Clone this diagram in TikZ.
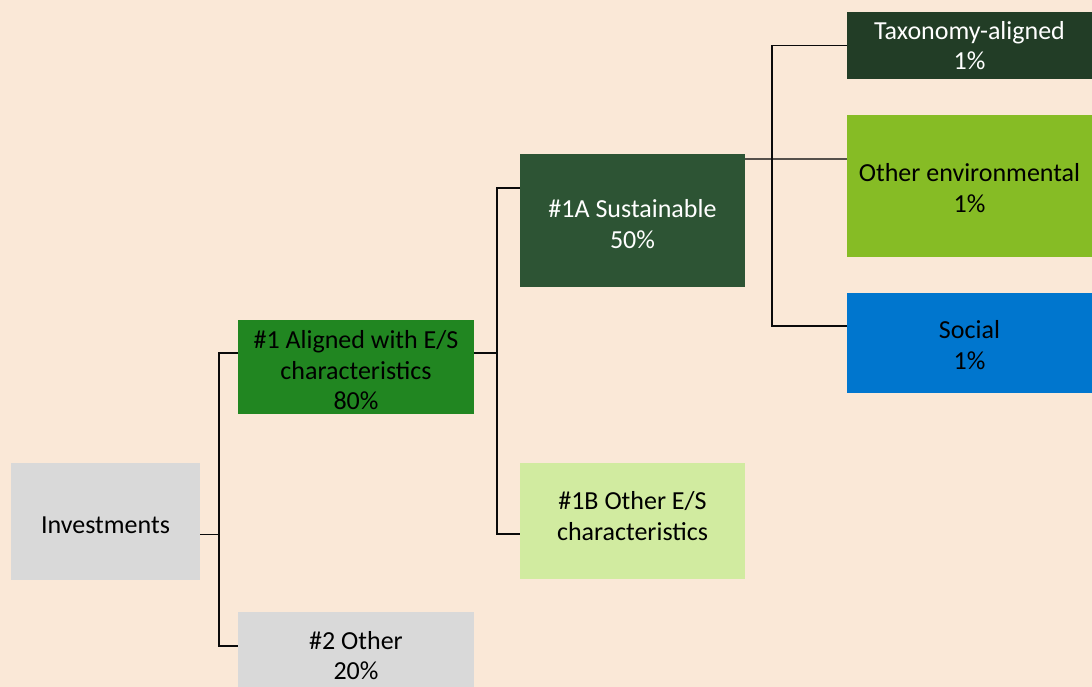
\documentclass[tikz,border=0pt]{standalone}
\usepackage{fontspec}
\setmainfont{Carlito}
\definecolor{bgc}{RGB}{250,232,215}
\definecolor{grayc}{RGB}{217,217,217}
\definecolor{alignc}{RGB}{33,134,33}
\definecolor{susc}{RGB}{45,84,52}
\definecolor{taxc}{RGB}{34,61,38}
\definecolor{envc}{RGB}{134,188,37}
\definecolor{socc}{RGB}{0,118,206}
\definecolor{otherc}{RGB}{209,235,160}
\definecolor{linec}{RGB}{10,10,10}
\definecolor{thinc}{RGB}{85,80,75}
\newcommand{\fstrut}[1][25pt]{\rule{0pt}{#1}}
\newcommand{\lstrut}{\rule[-10pt]{0pt}{10pt}}
\begin{document}
\begin{tikzpicture}[x=1pt,y=-1pt,
  box/.style={rectangle, inner sep=0pt, align=center, draw=none,
    font=\fontsize{26}{30.5}\selectfont},
  conn/.style={draw=linec, line width=1.5pt},
  thinconn/.style={draw=thinc, line width=1.3pt}]
\useasboundingbox (0,0) rectangle (1092,687);
\clip (0,0) rectangle (1092,687);
\fill[bgc] (0,0) rectangle (1092,687);

\node[box, fill=grayc, minimum width=189pt, minimum height=117pt] (inv) at (105.5,521.5) {\fstrut Investments};
\node[box, fill=alignc, minimum width=236pt, minimum height=94pt] (a1) at (356,367) {\fstrut\#1 Aligned with E/S\\characteristics\\80\%};
\node[box, fill=grayc, minimum width=236pt, minimum height=80pt] (oth) at (356,652) {\fstrut\#2 Other\\20\%};
\node[box, fill=susc, text=white, minimum width=225pt, minimum height=133pt] (s1a) at (632.5,220.5) {\fstrut\#1A Sustainable\\50\%};
\node[box, fill=otherc, minimum width=225pt, minimum height=116pt] (s1b) at (632.5,521) {\#1B Other E/S\\characteristics\lstrut};
\node[box, fill=taxc, text=white, minimum width=245pt, minimum height=67pt] (tax) at (969.5,45.5) {Taxonomy-aligned\\1\%};
\node[box, fill=envc, minimum width=245pt, minimum height=142pt] (env) at (969.5,186) {\fstrut[22pt]Other environmental\\1\%};
\node[box, fill=socc, minimum width=245pt, minimum height=100pt] (soc) at (969.5,343) {\fstrut[22pt]Social\\1\%};

\draw[conn] ([yshift=-13pt]inv.east) -- ++(19,0);
\draw[conn] ([yshift=14pt]a1.west) -- ++(-19,0) |- ([yshift=6pt]oth.west);
\draw[conn] ([yshift=14pt]a1.east) -- ++(23,0);
\draw[conn] ([yshift=32.5pt]s1a.west) -- ++(-23,0) |- ([yshift=-13pt]s1b.west);
\draw[thinconn] ([yshift=61.5pt]s1a.east) -- ([yshift=27pt]env.west);
\draw[conn] (tax.west) -- ++(-75,0) |- ([yshift=17pt]soc.west);
\end{tikzpicture}
\end{document}
